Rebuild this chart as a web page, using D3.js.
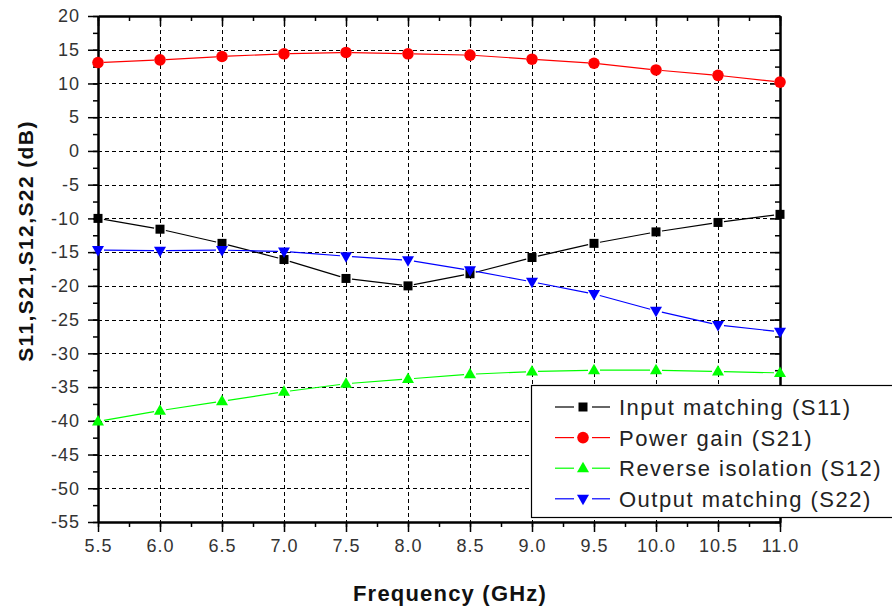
<!DOCTYPE html>
<html>
<head>
<meta charset="utf-8">
<script src="https://cdn.jsdelivr.net/npm/d3@7"></script>
<style>
  body { margin: 0; background: #fff; }
  svg { display: block; font-family: "Liberation Sans", Arial, sans-serif; }
</style>
</head>
<body>
<svg width="892" height="607"></svg>
<script>
// frequency points (GHz)
const freq = [5.5, 6.0, 6.5, 7.0, 7.5, 8.0, 8.5, 9.0, 9.5, 10.0, 10.5, 11.0];

// series values (dB)
const s11 = [-10.0, -11.6, -13.7, -16.1, -18.9, -20.0, -18.2, -15.8, -13.7, -12.0, -10.6, -9.4];
const s21 = [13.1, 13.5, 14.0, 14.4, 14.6, 14.4, 14.2, 13.6, 13.0, 12.0, 11.2, 10.2];
const s12 = [-40.1, -38.5, -37.1, -35.7, -34.5, -33.8, -33.1, -32.7, -32.5, -32.5, -32.7, -32.9];
const s22 = [-14.7, -14.8, -14.7, -14.9, -15.6, -16.2, -17.7, -19.4, -21.2, -23.7, -25.8, -26.8];

const seriesNames = ['Input matching (S11)', 'Power gain (S21)', 'Reverse isolation (S12)', 'Output matching (S22)'];
const seriesColors = ['#000000', '#ff0000', '#00ff00', '#0000ff'];
const seriesSymbols = ['square', 'circle', 'triangleUp', 'triangleDown'];

const xTicks = [5.5, 6.0, 6.5, 7.0, 7.5, 8.0, 8.5, 9.0, 9.5, 10.0, 10.5, 11.0];
const yTicks = [20, 15, 10, 5, 0, -5, -10, -15, -20, -25, -30, -35, -40, -45, -50, -55];

const svg = d3.select('svg');

const x = d3.scaleLinear().domain([5.5, 11]).range([98, 780]);
const y = d3.scaleLinear().domain([-55, 20]).range([522, 16]);

const xMinor = d3.range(5.5, 11.001, 0.25);
const yMinor = d3.range(-55, 20.001, 2.5);

// grid
const grid = svg.append('g')
  .attr('stroke', '#000').attr('stroke-width', 1).attr('stroke-dasharray', '4,3');
grid.selectAll('.gx').data(xTicks.slice(1, -1)).enter().append('line')
  .attr('x1', d => Math.round(x(d)) + 0.5).attr('x2', d => Math.round(x(d)) + 0.5)
  .attr('y1', y(20)).attr('y2', y(-55));
grid.selectAll('.gy').data(yTicks.slice(1, -1)).enter().append('line')
  .attr('y1', d => Math.round(y(d)) + 0.5).attr('y2', d => Math.round(y(d)) + 0.5)
  .attr('x1', x(5.5)).attr('x2', x(11));

// axes
const tickFmt = d3.format('.1f');
const yFmt = d => String(d); // plain hyphen for negatives, like the original
const styleAxis = g => {
  g.select('.domain').attr('stroke-width', 2);
  g.selectAll('.tick line').attr('stroke-width', 1.5);
  g.selectAll('.tick text')
    .attr('font-size', 18).attr('fill', '#333')
    .style('letter-spacing', '1px');
};

svg.append('g').attr('transform', 'translate(0,522)')
  .call(d3.axisBottom(x).tickValues(xTicks).tickFormat(tickFmt).tickSize(10).tickSizeOuter(0).tickPadding(7))
  .call(styleAxis);
svg.append('g').attr('transform', 'translate(0,522)')
  .call(d3.axisBottom(x).tickValues(xMinor).tickFormat('').tickSize(5).tickSizeOuter(0))
  .call(styleAxis);

svg.append('g').attr('transform', 'translate(98,0)')
  .call(d3.axisLeft(y).tickValues(yTicks).tickFormat(yFmt).tickSize(10).tickSizeOuter(0).tickPadding(8))
  .call(styleAxis);
svg.append('g').attr('transform', 'translate(98,0)')
  .call(d3.axisLeft(y).tickValues(yMinor).tickFormat('').tickSize(5).tickSizeOuter(0))
  .call(styleAxis);

// top and right: inward ticks, no labels
svg.append('g').attr('transform', 'translate(0,16)')
  .call(d3.axisTop(x).tickValues(xTicks).tickFormat('').tickSize(-10).tickSizeOuter(0))
  .call(styleAxis);
svg.append('g').attr('transform', 'translate(0,16)')
  .call(d3.axisTop(x).tickValues(xMinor).tickFormat('').tickSize(-5).tickSizeOuter(0))
  .call(styleAxis);
svg.append('g').attr('transform', 'translate(780,0)')
  .call(d3.axisRight(y).tickValues(yTicks).tickFormat('').tickSize(-10).tickSizeOuter(0))
  .call(styleAxis);
svg.append('g').attr('transform', 'translate(780,0)')
  .call(d3.axisRight(y).tickValues(yMinor).tickFormat('').tickSize(-5).tickSizeOuter(0))
  .call(styleAxis);

svg.selectAll('.domain').attr('stroke', '#000');

// series
const data = [s11, s21, s12, s22].map((vals, i) => ({
  name: seriesNames[i],
  color: seriesColors[i],
  symbol: seriesSymbols[i],
  points: freq.map((f, j) => ({ f, v: vals[j] }))
}));

const symbolPath = (type, cx, cy) => {
  if (type === 'square') return `M${cx - 4.5},${cy - 4.5}h9v9h-9Z`;
  if (type === 'triangleUp') return `M${cx},${cy - 6.5}L${cx + 6},${cy + 4}L${cx - 6},${cy + 4}Z`;
  return `M${cx},${cy + 6.5}L${cx + 6},${cy - 4}L${cx - 6},${cy - 4}Z`;
};

const drawMarker = (g, type, cx, cy, color) => {
  if (type === 'circle') {
    g.append('circle').attr('cx', cx).attr('cy', cy).attr('r', 5.8).attr('fill', color);
  } else {
    g.append('path').attr('d', symbolPath(type, cx, cy)).attr('fill', color);
  }
};

// line segments stop short of the markers
const gap = 6;
data.forEach(s => {
  const g = svg.append('g');
  for (let j = 0; j < s.points.length - 1; j++) {
    const x0 = x(s.points[j].f), y0 = y(s.points[j].v);
    const x1 = x(s.points[j + 1].f), y1 = y(s.points[j + 1].v);
    const len = Math.hypot(x1 - x0, y1 - y0);
    const ux = (x1 - x0) / len, uy = (y1 - y0) / len;
    g.append('line')
      .attr('x1', x0 + ux * gap).attr('y1', y0 + uy * gap)
      .attr('x2', x1 - ux * gap).attr('y2', y1 - uy * gap)
      .attr('stroke', s.color).attr('stroke-width', 1.2);
  }
  s.points.forEach(p => drawMarker(g, s.symbol, x(p.f), y(p.v), s.color));
});

// legend
const legend = svg.append('g');
legend.append('rect')
  .attr('x', 531.5).attr('y', 385.5).attr('width', 380).attr('height', 132)
  .attr('fill', '#fff').attr('stroke', '#000').attr('stroke-width', 1.2);
data.forEach((s, i) => {
  const ly = 407 + i * 30.6;
  legend.append('line').attr('x1', 555).attr('x2', 574).attr('y1', ly).attr('y2', ly)
    .attr('stroke', s.color).attr('stroke-width', 1.2);
  legend.append('line').attr('x1', 592).attr('x2', 610).attr('y1', ly).attr('y2', ly)
    .attr('stroke', s.color).attr('stroke-width', 1.2);
  drawMarker(legend, s.symbol, 583, ly, s.color);
  legend.append('text')
    .attr('x', 619).attr('y', ly).attr('dy', '0.36em')
    .attr('font-size', 22).attr('fill', '#222')
    .style('letter-spacing', '1.5px')
    .text(s.name);
});

// axis titles
svg.append('text')
  .attr('x', 450).attr('y', 601)
  .attr('text-anchor', 'middle')
  .attr('font-size', 22).attr('font-weight', 'bold').attr('fill', '#111')
  .style('letter-spacing', '1.2px')
  .text('Frequency (GHz)');

svg.append('text')
  .attr('transform', 'translate(33,241) rotate(-90)')
  .attr('text-anchor', 'middle')
  .attr('font-size', 21).attr('font-weight', 'bold').attr('fill', '#111')
  .style('letter-spacing', '1.4px')
  .text('S11,S21,S12,S22 (dB)');
</script>
</body>
</html>
